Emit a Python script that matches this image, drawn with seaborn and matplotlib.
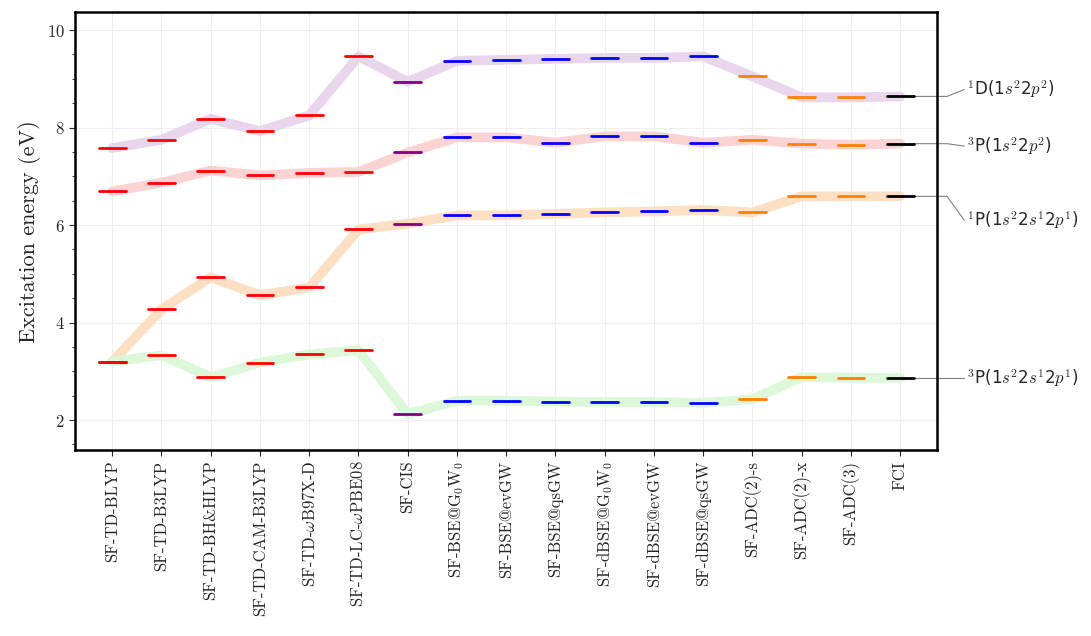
import numpy as np
import matplotlib
matplotlib.use('Agg')
import matplotlib.pyplot as plt
import seaborn as sns

methods = ['SF-TD-BLYP', 'SF-TD-B3LYP', 'SF-TD-BH&HLYP', 'SF-TD-CAM-B3LYP',
           r'SF-TD-$\omega$B97X-D', r'SF-TD-LC-$\omega$PBE08', 'SF-CIS',
           r'SF-BSE@G$_0$W$_0$', 'SF-BSE@evGW', 'SF-BSE@qsGW',
           r'SF-dBSE@G$_0$W$_0$', 'SF-dBSE@evGW', 'SF-dBSE@qsGW',
           'SF-ADC(2)-s', 'SF-ADC(2)-x', 'SF-ADC(3)', 'FCI']

e_1D = [7.58, 7.75, 8.18, 7.93, 8.25, 9.46, 8.94, 9.37, 9.39, 9.41, 9.43, 9.43, 9.46, 9.05, 8.62, 8.62, 8.64]
e_3P_2p2 = [6.69, 6.87, 7.12, 7.02, 7.07, 7.09, 7.49, 7.80, 7.80, 7.69, 7.82, 7.82, 7.69, 7.75, 7.67, 7.65, 7.67]
e_1P = [3.20, 4.27, 4.93, 4.56, 4.72, 5.91, 6.03, 6.20, 6.20, 6.23, 6.26, 6.28, 6.31, 6.26, 6.59, 6.59, 6.59]
e_3P_2s2p = [3.20, 3.33, 2.88, 3.18, 3.35, 3.43, 2.12, 2.40, 2.40, 2.38, 2.37, 2.37, 2.35, 2.43, 2.88, 2.87, 2.86]

states = [r'$^1$D(1$s^2$2$p^2$)', r'$^3$P(1$s^2$2$p^2$)',
          r'$^1$P(1$s^2$2$s^1$2$p^1$)', r'$^3$P(1$s^2$2$s^1$2$p^1$)']
band_colors = ['#e9d6ed', '#fbd3d3', '#fddfc4', '#dcf8d9']
label_y = [8.78, 7.62, 6.1, 2.86]

tick_colors = ['red'] * 6 + ['purple'] + ['blue'] * 6 + ['#ff8000'] * 3 + ['black']

sns.set_style('white')
plt.rcParams['font.family'] = ['cmr10', 'DejaVu Serif']
plt.rcParams['mathtext.fontset'] = 'cm'
plt.rcParams['axes.formatter.use_mathtext'] = True

fig, ax = plt.subplots(figsize=(10.91, 6.36), dpi=100)
fig.subplots_adjust(left=0.069, right=0.859, top=0.981, bottom=0.292)

x = np.arange(len(methods))
series = [e_1D, e_3P_2p2, e_1P, e_3P_2s2p]
for vals, bc in zip(series, band_colors):
    sns.lineplot(x=x, y=vals, ax=ax, color=bc, lw=7, solid_capstyle='round', zorder=1)
    for xi, v, c in zip(x, vals, tick_colors):
        ax.plot([xi - 0.27, xi + 0.27], [v, v], color=c, lw=2, zorder=3)

n = len(methods)
ax.set_xlim(-0.75, n - 0.25)
ax.set_ylim(1.38, 10.37)
ax.set_xticks(x)
ax.set_xticklabels(methods, rotation=90, fontsize=12)
ax.set_yticks([2, 4, 6, 8, 10])
ax.set_yticks(np.arange(1.5, 10.4, 0.5), minor=True)
ax.tick_params(axis='y', which='minor', length=2, left=True)
ax.tick_params(axis='y', which='major', length=4, left=True, labelsize=12)
ax.tick_params(axis='x', length=4, bottom=True)
ax.set_ylabel('Excitation energy (eV)', fontsize=16)
ax.grid(True, color='#eeeeee', lw=0.8)
for s in ax.spines.values():
    s.set_linewidth(1.8)
    s.set_color('black')

for st, vals, ly in zip(states, series, label_y):
    v = vals[-1]
    ax.plot([n - 1 + 0.27, n - 0.05, n + 0.3], [v, v, ly], color='gray', lw=0.8,
            clip_on=False, zorder=2)
    ax.text(n + 0.35, ly, st, fontsize=12, family='DejaVu Sans', va='center')

fig.savefig('out.png')
